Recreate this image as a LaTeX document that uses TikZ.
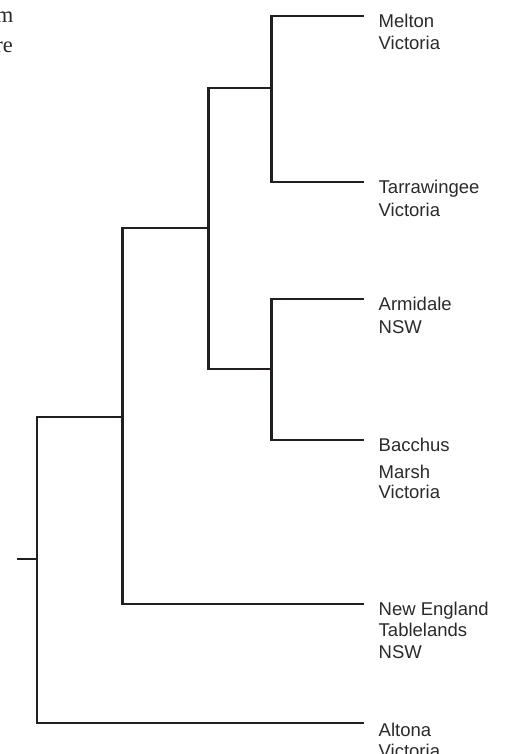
\documentclass[tikz,border=0pt]{standalone}
\usepackage{fontspec}
\setmainfont{Liberation Sans}
\newfontfamily\capserif{Liberation Serif}
\definecolor{ink}{HTML}{231F20}
\definecolor{txt}{HTML}{2A2A2A}
\begin{document}
\begin{tikzpicture}[x=1pt,y=-1pt,
  branch/.style={draw=ink,line width=2.2pt,line join=miter},
  lab/.style={anchor=base west,inner sep=0pt,text=txt,font=\fontsize{18.5pt}{21pt}\selectfont},
  capt/.style={anchor=base east,inner sep=0pt,text=txt,font=\capserif\fontsize{22.5pt}{25pt}\selectfont}]
\useasboundingbox (0,0) rectangle (505,754);
% clipped caption fragments
\node[capt] (capm) at (13.5,23) {m};
\node[capt] (capre) at (13,53) {re};
% junctions
\coordinate (stub) at (17,559.3);
\coordinate (j0) at (37,559.3);
\coordinate (j1) at (122.5,417.3);
\coordinate (j2) at (208.5,228.3);
\coordinate (j3) at (271.5,87.7);
\coordinate (j4) at (271.5,369.3);
% leaf ends
\coordinate (e-melton) at (364,16);
\coordinate (e-tarra) at (364,182.3);
\coordinate (e-armi) at (364,299.3);
\coordinate (e-bacc) at (364,440);
\coordinate (e-ne) at (364,604);
\coordinate (e-alt) at (364,722.7);
% branches
\draw[branch] (stub) -- (j0);
\draw[branch] (j0) |- (j1);
\draw[branch] (j0) |- (e-alt);
\draw[branch] (j1) |- (j2);
\draw[branch] (j1) |- (e-ne);
\draw[branch] (j2) |- (j3);
\draw[branch] (j2) |- (j4);
\draw[branch] (j3) |- (e-melton);
\draw[branch] (j3) |- (e-tarra);
\draw[branch] (j4) |- (e-armi);
\draw[branch] (j4) |- (e-bacc);
% labels
\node[lab] (melton) at (378.5,27.3) {Melton};
\node[lab] (melton2) at (378.5,50) {Victoria};
\node[lab] (tarra) at (378.5,193.3) {Tarrawingee};
\node[lab] (tarra2) at (378.5,216) {Victoria};
\node[lab] (armi) at (378.5,310.3) {Armidale};
\node[lab] (armi2) at (378.5,333) {NSW};
\node[lab] (bacc) at (378.5,451) {Bacchus};
\node[lab] (bacc2) at (378.5,478) {Marsh};
\node[lab] (bacc3) at (378.5,498.5) {Victoria};
\node[lab] (ne) at (378.5,615) {New England};
\node[lab] (ne2) at (378.5,636.7) {Tablelands};
\node[lab] (ne3) at (378.5,658.3) {NSW};
\node[lab] (alt) at (378.5,736) {Altona};
\node[lab] (alt2) at (378.5,757.7) {Victoria};
\end{tikzpicture}
\end{document}
